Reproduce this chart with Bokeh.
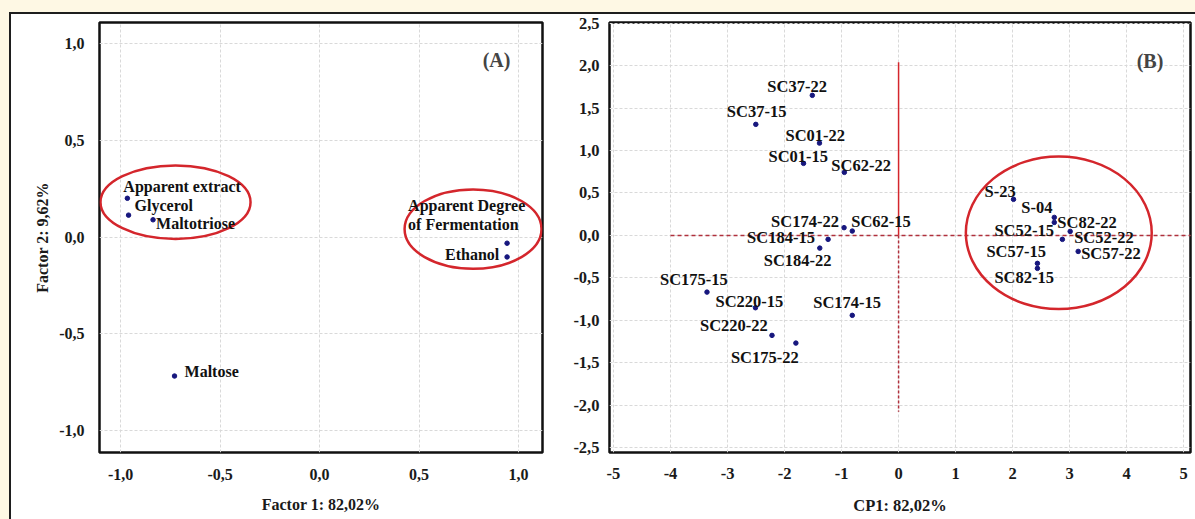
from bokeh.plotting import figure
from bokeh.layouts import row, column
from bokeh.models import ColumnDataSource, CustomJSTickFormatter, FixedTicker, Label
from bokeh.core.properties import value
from bokeh.embed import file_html
from bokeh.resources import INLINE

# ---------------- Panel A: factor loadings ----------------
var_names = ["Apparent extract", "Glycerol", "Maltotriose",
             "Apparent Degree\nof Fermentation", "Ethanol", "Maltose"]
factor1 = [-0.966, -0.960, -0.837, 0.942, 0.942, -0.729]
factor2 = [0.200, 0.113, 0.089, -0.032, -0.103, -0.718]
a_ticks = [-1.0, -0.5, 0.0, 0.5, 1.0]
a_x_title = "Factor 1: 82,02%"
a_y_title = "Factor 2: 9,62%"
a_tag = "(A)"
# circled groups (centre x, centre y, width, height)
a_group_x = [-0.724, 0.771]
a_group_y = [0.180, 0.041]
a_group_w = [0.754, 0.688]
a_group_h = [0.380, 0.410]

# ---------------- Panel B: scores ----------------
strain_names = ["SC37-22", "SC37-15", "SC01-22", "SC01-15", "SC62-22",
                "SC174-22", "SC62-15", "SC184-15", "SC184-22", "SC175-15",
                "SC220-15", "SC174-15", "SC220-22", "SC175-22",
                "S-23", "S-04", "SC82-22", "SC52-22", "SC52-15",
                "SC57-22", "SC57-15", "SC82-15"]
cp1 = [-1.513, -2.504, -1.387, -1.667, -0.951,
       -0.956, -0.812, -1.236, -1.382, -3.360,
       -2.510, -0.812, -2.220, -1.801,
       2.016, 2.731, 2.731, 3.010, 2.873,
       3.150, 2.435, 2.435]
cp2 = [1.651, 1.309, 1.088, 0.849, 0.743,
       0.091, 0.051, -0.047, -0.150, -0.669,
       -0.853, -0.943, -1.179, -1.270,
       0.425, 0.212, 0.153, 0.047, -0.047,
       -0.189, -0.330, -0.389]
b_x_ticks = [-5, -4, -3, -2, -1, 0, 1, 2, 3, 4, 5]
b_y_ticks = [-2.5, -2.0, -1.5, -1.0, -0.5, 0.0, 0.5, 1.0, 1.5, 2.0, 2.5]
b_x_title = "CP1: 82,02%"
b_tag = "(B)"
b_group_x = [2.81]
b_group_y = [0.03]
b_group_w = [3.26]
b_group_h = [1.80]
# reference lines
b_hline = [-4.0, 5.2]
b_vline_up = [0.0, 2.04]
b_vline_down = [0.0, -2.08]

# label placement (screen px offsets from each point to label's left/middle)
a_dx = [-4, 6, 3, -99, -62, 10]
a_dy = [-12, -10, 4, -28, -2, -5]
b_dx = [-45, -29, -34, -35, -13, -73, -1, -81, -56, -47, -40, -39, -72, -65,
        -29, -33, 3, 4, -68, 3, -51, -43]
b_dy = [-9, -13, -8, -7, -7, -6, -10, -2, 12, -13, -6, -13, -10, 14,
        -8, -10, 0, 6, -9, 2, -12, 9]

SERIF = value("Liberation Serif")
DOT = "#17177e"
RED = "#d4262c"
GRID = "#d9d9d9"


def style(p, tick_size):
    p.outline_line_color = "#111111"
    p.outline_line_width = 2.5
    p.background_fill_color = "white"
    p.border_fill_color = "white"
    for ax in (p.xaxis[0], p.yaxis[0]):
        ax.axis_line_color = None
        ax.major_tick_line_color = None
        ax.minor_tick_line_color = None
        ax.major_label_text_font = "Liberation Serif"
        ax.major_label_text_font_style = "bold"
        ax.major_label_text_font_size = tick_size
        ax.major_label_text_color = "#1a1a1a"
        ax.axis_label_text_font = "Liberation Serif"
        ax.axis_label_text_font_style = "bold"
        ax.axis_label_text_font_size = "16px"
        ax.axis_label_text_color = "#1a1a1a"
    p.grid.grid_line_color = GRID
    p.grid.grid_line_width = 1
    p.grid.grid_line_dash = "3 2"


# ---------------- Figure A ----------------
pa = figure(width=559, height=505, x_range=(-1.106, 1.12), y_range=(-1.113, 1.108),
            output_backend="svg", toolbar_location=None, title=None,
            min_border_left=88, min_border_right=28, min_border_top=8, min_border_bottom=64)
style(pa, "16px")
fmt1 = CustomJSTickFormatter(code="return tick.toFixed(1).replace('.', ',');")
pa.xaxis.ticker = FixedTicker(ticks=a_ticks)
pa.yaxis.ticker = FixedTicker(ticks=a_ticks)
pa.xaxis.formatter = fmt1
pa.yaxis.formatter = fmt1
pa.xaxis.axis_label = a_x_title
pa.yaxis.axis_label = a_y_title
pa.xaxis.major_label_standoff = 10
pa.yaxis.major_label_standoff = 9
pa.xaxis.axis_label_standoff = 13
pa.yaxis.axis_label_standoff = 5

src_a = ColumnDataSource(dict(x=factor1, y=factor2, t=var_names, dx=a_dx, dy=a_dy))
pa.ellipse(x=a_group_x, y=a_group_y, width=a_group_w, height=a_group_h,
           fill_color=None, line_color=RED, line_width=2.5)
pa.scatter("x", "y", source=src_a, size=4.5, color=DOT)
pa.text("x", "y", text="t", source=src_a, x_offset="dx", y_offset="dy",
        text_align="left", text_baseline="middle", text_font=SERIF,
        text_font_style="bold", text_font_size="16px", text_color="#111111",
        text_line_height=1.12)
pa.add_layout(Label(x=0.889, y=0.913, text=a_tag, text_align="center",
                    text_baseline="middle", text_font="Liberation Serif",
                    text_font_style="bold", text_font_size="20px"))

# ---------------- Figure B ----------------
pb = figure(width=625, height=505, x_range=(-5.07, 5.12), y_range=(-2.56, 2.51),
            output_backend="svg", toolbar_location=None, title=None,
            min_border_left=36, min_border_right=5, min_border_top=8, min_border_bottom=67)
style(pb, "16.5px")
pb.xaxis.ticker = FixedTicker(ticks=b_x_ticks)
pb.yaxis.ticker = FixedTicker(ticks=b_y_ticks)
pb.xaxis.formatter = CustomJSTickFormatter(code="return tick.toFixed(0);")
pb.yaxis.formatter = fmt1
pb.xaxis.axis_label = b_x_title
pb.xaxis.axis_label_text_font_size = "16.5px"
pb.xaxis.major_label_standoff = 9
pb.yaxis.major_label_standoff = 4
pb.xaxis.axis_label_standoff = 14

pb.line(x=b_hline, y=[0, 0], line_color="#b0303c", line_width=1.5, line_dash="4 3")
pb.line(x=[0, 0], y=b_vline_up, line_color=RED, line_width=1.5)
pb.line(x=[0, 0], y=b_vline_down, line_color="#b0303c", line_width=1.5, line_dash="3 2")
pb.ellipse(x=b_group_x, y=b_group_y, width=b_group_w, height=b_group_h,
           fill_color=None, line_color=RED, line_width=2.5)
src_b = ColumnDataSource(dict(x=cp1, y=cp2, t=strain_names, dx=b_dx, dy=b_dy))
pb.scatter("x", "y", source=src_b, size=4.5, color=DOT)
pb.text("x", "y", text="t", source=src_b, x_offset="dx", y_offset="dy",
        text_align="left", text_baseline="middle", text_font=SERIF,
        text_font_style="bold", text_font_size="16.5px", text_color="#111111")
pb.add_layout(Label(x=4.41, y=2.06, text=b_tag, text_align="center",
                    text_baseline="middle", text_font="Liberation Serif",
                    text_font_style="bold", text_font_size="20px"))

inner = row(pa, pb, styles={"border-left": "2px solid #1e1e1e",
                            "border-top": "2px solid #1e1e1e",
                            "background-color": "white"})
page = column(inner, styles={"background-color": "#FEF8E4",
                             "padding-top": "12px", "padding-left": "9px"})

open("out.html", "w").write(file_html(page, INLINE))
